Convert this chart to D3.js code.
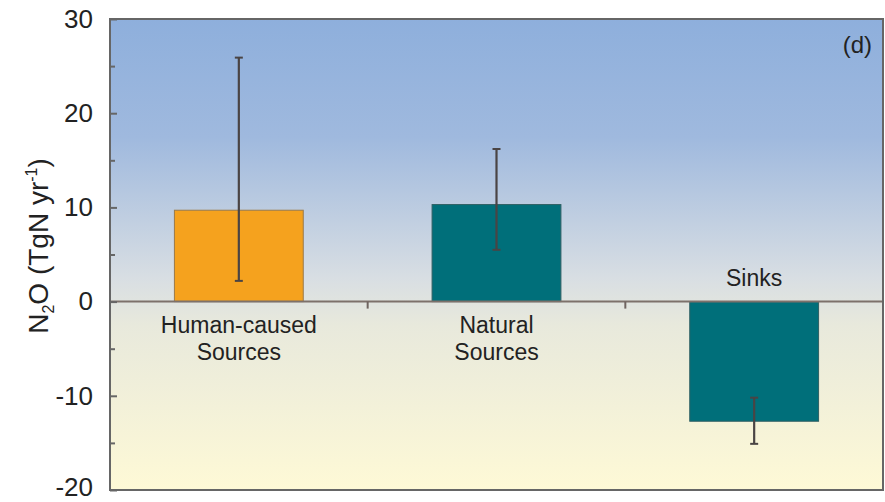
<!DOCTYPE html>
<html>
<head>
<meta charset="utf-8">
<script src="https://cdn.jsdelivr.net/npm/d3@7"></script>
<style>
  body { margin: 0; background: #fff; }
  text { font-family: "Liberation Sans", Arial, sans-serif; fill: #222; }
</style>
</head>
<body>
<svg class="chart"></svg>
<script>
// data
var categories = ["Human-caused Sources", "Natural Sources", "Sinks"];
var values = [9.7, 10.3, -12.7];
var errLow = [2.2, 5.5, -15.1];
var errHigh = [25.9, 16.2, -10.2];
var barColors = ["#f5a21e", "#006f7a"];
var majorTicks = [30, 20, 10, 0, -10, -20];
var minorTicks = [25, 15, 5, -5, -15];

(function show() {
    'use strict';

    var margin = {top: 19, bottom: 12, right: 2, left: 110},
        width = 885 - margin.left - margin.right,
        height = 502 - margin.top - margin.bottom;

    var svg = d3.select(".chart")
        .attr("width", width + margin.left + margin.right)
        .attr("height", height + margin.top + margin.bottom);

    // background gradient
    var grad = svg.append("defs").append("linearGradient")
        .attr("id", "bg").attr("x1", 0).attr("y1", 0).attr("x2", 0).attr("y2", 1);
    grad.append("stop").attr("offset", "0%").attr("stop-color", "#8eafdc");
    grad.append("stop").attr("offset", "25%").attr("stop-color", "#9fb9de");
    grad.append("stop").attr("offset", "55%").attr("stop-color", "#d8dee3");
    grad.append("stop").attr("offset", "65%").attr("stop-color", "#e8e9dc");
    grad.append("stop").attr("offset", "100%").attr("stop-color", "#fef9d6");

    var chart = svg.append("g")
        .attr("transform", "translate(" + margin.left + "," + margin.top + ")");

    var scaleX = d3.scaleBand()
        .domain(categories)
        .range([0, width])
        .paddingInner(0.5)
        .paddingOuter(0.25);

    var scaleY = d3.scaleLinear().domain([-20, 30]).range([height, 0]);

    chart.append("rect")
        .attr("width", width).attr("height", height)
        .attr("fill", "url(#bg)");

    // bars
    chart.selectAll(".bar").data(values)
        .enter().append("rect")
        .attr("class", "bar")
        .attr("x", function(d, i) { return scaleX(categories[i]); })
        .attr("y", function(d) { return scaleY(Math.max(0, d)); })
        .attr("width", scaleX.bandwidth())
        .attr("height", function(d) { return Math.abs(scaleY(d) - scaleY(0)); })
        .attr("fill", function(d, i) { return i === 0 ? barColors[0] : barColors[1]; })
        .attr("stroke", function(d, i) { return i === 0 ? "#9a7a4a" : "#2f5f63"; })
        .attr("stroke-width", 1);

    // zero line
    chart.append("line")
        .attr("x1", 0).attr("x2", width)
        .attr("y1", scaleY(0)).attr("y2", scaleY(0))
        .attr("stroke", "#7d716b").attr("stroke-width", 2);

    // category separator ticks on zero line
    var step = scaleX.step();
    chart.selectAll(".sep").data([1, 2])
        .enter().append("line")
        .attr("x1", function(d) { return scaleX(categories[d]) - step * 0.25; })
        .attr("x2", function(d) { return scaleX(categories[d]) - step * 0.25; })
        .attr("y1", scaleY(0)).attr("y2", scaleY(0) + 7)
        .attr("stroke", "#6f6460").attr("stroke-width", 2);

    // error bars
    var eb = chart.selectAll(".err").data(values)
        .enter().append("g")
        .attr("transform", function(d, i) {
            return "translate(" + (scaleX(categories[i]) + scaleX.bandwidth() / 2) + ",0)";
        });
    eb.append("line")
        .attr("y1", function(d, i) { return scaleY(errLow[i]); })
        .attr("y2", function(d, i) { return scaleY(errHigh[i]); })
        .attr("stroke", "#4a4444").attr("stroke-width", 2.2);
    eb.append("line")
        .attr("x1", -4).attr("x2", 4)
        .attr("y1", function(d, i) { return scaleY(errLow[i]); })
        .attr("y2", function(d, i) { return scaleY(errLow[i]); })
        .attr("stroke", "#4a4444").attr("stroke-width", 2);
    eb.append("line")
        .attr("x1", -4).attr("x2", 4)
        .attr("y1", function(d, i) { return scaleY(errHigh[i]); })
        .attr("y2", function(d, i) { return scaleY(errHigh[i]); })
        .attr("stroke", "#4a4444").attr("stroke-width", 2);

    // frame
    chart.append("rect")
        .attr("width", width).attr("height", height)
        .attr("fill", "none").attr("stroke", "#666").attr("stroke-width", 2);

    // left axis, ticks inside
    var leftAxis = d3.axisLeft(scaleY).tickValues(majorTicks).tickSize(-7).tickPadding(17)
        .tickFormat(function(d) { return String(d); });
    var ax = chart.append("g").call(leftAxis);
    ax.select(".domain").remove();
    ax.selectAll(".tick line").attr("stroke", "#666").attr("stroke-width", 2);
    ax.selectAll(".tick text")
        .style("font-family", "'Liberation Sans', Arial, sans-serif")
        .style("font-size", "26px").attr("fill", "#222")
        .attr("dy", function(d) { return d === -20 ? "0.2em" : "0.32em"; });

    var minorAxis = d3.axisLeft(scaleY).tickValues(minorTicks).tickSize(-5).tickFormat("");
    var mx = chart.append("g").call(minorAxis);
    mx.select(".domain").remove();
    mx.selectAll(".tick line").attr("stroke", "#666").attr("stroke-width", 2);

    // category labels
    var labelLines = [["Human-caused", "Sources"], ["Natural", "Sources"]];
    labelLines.forEach(function(lines, i) {
        var cx = scaleX(categories[i]) + scaleX.bandwidth() / 2;
        lines.forEach(function(t, j) {
            chart.append("text")
                .attr("x", cx).attr("y", scaleY(0) + 31 + j * 27)
                .attr("text-anchor", "middle")
                .style("font-size", "23px")
                .text(t);
        });
    });
    chart.append("text")
        .attr("x", scaleX(categories[2]) + scaleX.bandwidth() / 2)
        .attr("y", scaleY(0) - 16)
        .attr("text-anchor", "middle")
        .style("font-size", "23px")
        .text("Sinks");

    // panel letter
    chart.append("text")
        .attr("x", width - 11).attr("y", 34)
        .attr("text-anchor", "end")
        .style("font-size", "24px")
        .text("(d)");

    // y label
    var yl = svg.append("text")
        .attr("transform", "translate(48,246) rotate(-90)")
        .attr("text-anchor", "middle")
        .style("font-size", "28px");
    yl.append("tspan").text("N");
    yl.append("tspan").attr("dy", 6).style("font-size", "16px").text("2");
    yl.append("tspan").attr("dy", -6).text("O (TgN yr");
    yl.append("tspan").attr("dy", -11).style("font-size", "16px").text("-1");
    yl.append("tspan").attr("dy", 11).text(")");
})();
</script>
</body>
</html>
